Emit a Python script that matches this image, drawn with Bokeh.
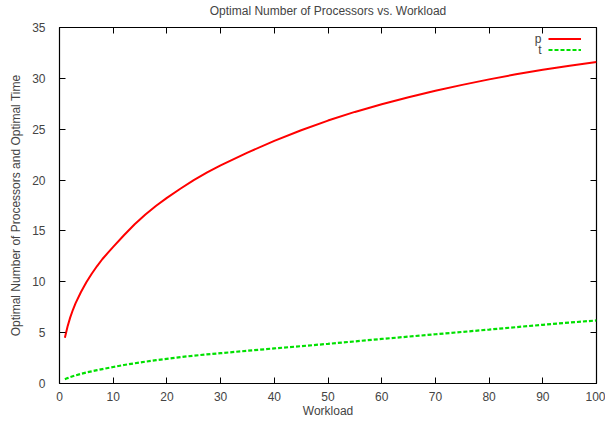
from bokeh.plotting import figure
from bokeh.models import Range1d, LinearAxis, FixedTicker, Legend, LegendItem, Label
from bokeh.embed import file_html
from bokeh.resources import INLINE

# Data
workload_p = [1, 1.5, 2, 2.5, 3, 4, 5, 6, 7, 8, 9, 10, 12, 14, 16, 18, 20, 22.5, 25, 27.5,
              30, 35, 40, 45, 50, 55, 60, 65, 70, 75, 80, 85, 90, 95, 100]
p_vals = [4.5, 5.6, 6.5, 7.25, 7.9, 9.0, 9.95, 10.79, 11.55, 12.24, 12.84, 13.43, 14.58,
          15.65, 16.62, 17.48, 18.25, 19.15, 20.0, 20.75, 21.45, 22.7, 23.85, 24.9, 25.85,
          26.7, 27.45, 28.15, 28.78, 29.36, 29.9, 30.4, 30.85, 31.25, 31.6]
workload_t = [1, 1.5, 2, 3, 4, 5, 6, 7, 8, 10, 12, 15, 18, 21, 24, 27, 30, 35, 40, 45, 50,
              55, 60, 65, 70, 75, 80, 85, 90, 95, 100]
t_vals = [0.42, 0.53, 0.63, 0.8, 0.95, 1.08, 1.2, 1.31, 1.42, 1.62, 1.82, 2.07, 2.3, 2.5,
          2.68, 2.84, 2.98, 3.22, 3.45, 3.67, 3.9, 4.14, 4.38, 4.61, 4.84, 5.07, 5.3, 5.54,
          5.77, 5.99, 6.2]
x_ticks = [0, 10, 20, 30, 40, 50, 60, 70, 80, 90, 100]
y_ticks = [0, 5, 10, 15, 20, 25, 30, 35]
series_names = ["p", "t"]
title_text = "Optimal Number of Processors vs. Workload"

FONT = "Liberation Sans"

p = figure(width=605, height=423, output_backend="svg", toolbar_location=None,
           x_range=Range1d(0, 100), y_range=Range1d(0, 35),
           min_border_left=59, min_border_right=9, min_border_top=27, min_border_bottom=40,
           x_axis_label="Workload",
           y_axis_label="Optimal Number of Processors and Optimal Time")

p.title.text = title_text
p.title.align = "center"
p.title.text_font = FONT
p.title.text_font_size = "12px"
p.title.text_font_style = "normal"
p.title.standoff = 0
p.title.padding = dict(left=0, right=0, top=0, bottom=10)

p.grid.visible = False
p.outline_line_color = "black"
p.outline_line_width = 1.2
p.background_fill_color = "white"
p.border_fill_color = "white"

for ax, ticks in ((p.xaxis[0], x_ticks), (p.yaxis[0], y_ticks)):
    ax.ticker = FixedTicker(ticks=ticks)
    ax.major_tick_in = 6
    ax.major_tick_out = 0
    ax.minor_tick_in = 0
    ax.minor_tick_out = 0
    ax.axis_line_color = None
    ax.major_tick_line_color = "black"
    ax.major_label_text_font = FONT
    ax.major_label_text_font_size = "12px"
    ax.axis_label_text_font = FONT
    ax.axis_label_text_font_size = "12px"
    ax.axis_label_text_font_style = "normal"

p.xaxis[0].major_label_standoff = 8
p.xaxis[0].axis_label_standoff = 0
p.yaxis[0].major_label_standoff = 14
p.yaxis[0].axis_label_standoff = 6

# mirrored ticks on top and right (no labels)
for loc, ticks in (("above", x_ticks), ("right", y_ticks)):
    ax = LinearAxis(ticker=FixedTicker(ticks=ticks))
    ax.major_tick_in = 6
    ax.major_tick_out = 0
    ax.minor_tick_in = 0
    ax.minor_tick_out = 0
    ax.axis_line_color = None
    ax.major_label_overrides = {t: "" for t in ticks}
    ax.major_label_standoff = 0
    p.add_layout(ax, loc)

r_p = p.line(workload_p, p_vals, line_color="#ff0000", line_width=2)
r_t = p.line(workload_t, t_vals, line_color="#00e000", line_width=2.2, line_dash="4 2")

legend = Legend(items=[LegendItem(label="", renderers=[r_p]),
                       LegendItem(label="", renderers=[r_t])],
                location=(489, 328), padding=0, margin=0, spacing=0,
                glyph_width=33, glyph_height=11, label_width=0, label_standoff=0,
                label_height=11,
                border_line_color=None, background_fill_alpha=0)
p.add_layout(legend)

for name, yy in zip(series_names, (345, 334)):
    p.add_layout(Label(x=482, y=yy, x_units="screen", y_units="screen", text=name,
                       text_align="right", text_baseline="middle",
                       text_font=FONT, text_font_size="12px"))

open("out.html", "w").write(file_html(p, INLINE))
